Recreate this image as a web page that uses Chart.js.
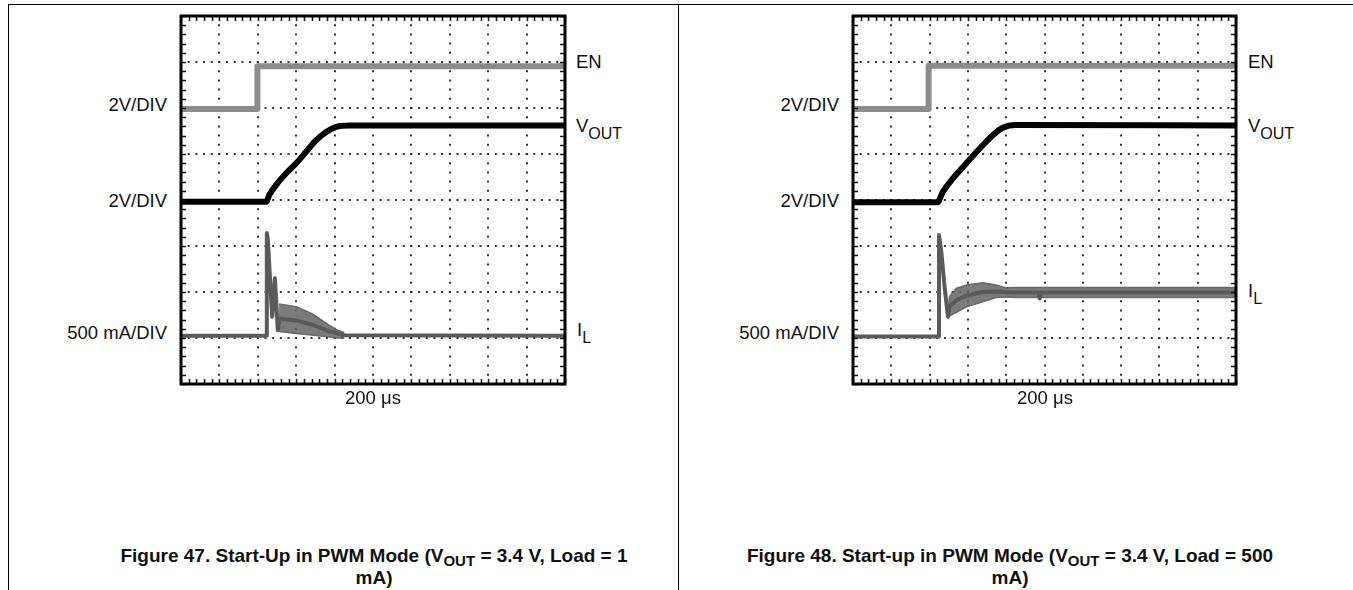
<!DOCTYPE html>
<html>
<head>
<meta charset="utf-8">
<script src="https://cdn.jsdelivr.net/npm/chart.js@4.4.1/dist/chart.umd.min.js"></script>
<style>
  html, body { margin: 0; padding: 0; background: #fff; }
  body { width: 1353px; height: 590px; position: relative; overflow: hidden;
         font-family: "Liberation Sans", Arial, Helvetica, sans-serif; color: #111; }
  .rule { position: absolute; background: #000; }
  canvas { position: absolute; }
  .lbl { position: absolute; font-size: 18.5px; line-height: 18.5px; white-space: nowrap; transform: translateY(-50%); }
  .lbl.r { transform: translate(-100%, -50%); }
  .lbl.c { transform: translate(-50%, -50%); }
  .lbl sub { font-size: 16px; vertical-align: baseline; position: relative; top: 7px; }
  .cap { position: absolute; text-align: center; font-weight: bold; font-size: 19px; line-height: 21px;
         white-space: nowrap; transform: translateX(-50%); }
  .cap sub { font-size: 15px; vertical-align: baseline; position: relative; top: 4px; }
</style>
</head>
<body>
<div class="rule" style="left:8px; top:4px; width:1345px; height:1px"></div>
<div class="rule" style="left:8px; top:4px; width:1px; height:586px"></div>
<div class="rule" style="left:678px; top:4px; width:1px; height:586px"></div>

<canvas id="fig47" width="404" height="388" style="left:171px; top:6px"></canvas>
<canvas id="fig48" width="403" height="388" style="left:843px; top:6px"></canvas>

<!-- Figure 47 labels -->
<div class="lbl r" style="left:167px; top:105px">2V/DIV</div>
<div class="lbl r" style="left:167px; top:201px">2V/DIV</div>
<div class="lbl r" style="left:167px; top:333px">500 mA/DIV</div>
<div class="lbl" style="left:576px; top:62px">EN</div>
<div class="lbl" style="left:576px; top:127px">V<sub>OUT</sub></div>
<div class="lbl" style="left:577px; top:331px">I<sub>L</sub></div>
<div class="lbl c" style="left:373px; top:398px">200 μs</div>
<div class="cap" style="left:374px; top:545px">Figure 47. Start-Up in PWM Mode (V<sub>OUT</sub> = 3.4 V, Load = 1<br>mA)</div>

<!-- Figure 48 labels -->
<div class="lbl r" style="left:839px; top:105px">2V/DIV</div>
<div class="lbl r" style="left:839px; top:201px">2V/DIV</div>
<div class="lbl r" style="left:839px; top:333px">500 mA/DIV</div>
<div class="lbl" style="left:1248px; top:62px">EN</div>
<div class="lbl" style="left:1248px; top:127px">V<sub>OUT</sub></div>
<div class="lbl" style="left:1248px; top:292px">I<sub>L</sub></div>
<div class="lbl c" style="left:1045px; top:398px">200 μs</div>
<div class="cap" style="left:1010px; top:545px">Figure 48. Start-up in PWM Mode (V<sub>OUT</sub> = 3.4 V, Load = 500<br>mA)</div>

<script>
// time in µs (200 µs/div, 10 div across), level in screen divisions (8 div high)

// Figure 47, load 1 mA
const en47T = [0, 398, 398, 2000];
const en47Y = [5.98, 5.98, 6.91, 6.91];
const vout47T = [0, 444, 460, 496, 548, 600, 652, 704, 756, 808, 878, 2000];
const vout47Y = [3.96, 3.96, 4.11, 4.33, 4.58, 4.80, 5.05, 5.30, 5.48, 5.59, 5.62, 5.62];
const il47T = [0, 444, 447, 452, 475, 489, 504, 514, 600, 690, 775, 850, 2000];
const il47Y = [1.05, 1.05, 3.28, 3.15, 1.46, 2.30, 1.17, 1.42, 1.38, 1.28, 1.14, 1.06, 1.05];
const il47BandT = [510, 600, 690, 775, 810, 850];
const il47BandHi = [1.74, 1.68, 1.51, 1.27, 1.18, 1.12];
const il47BandLo = [1.14, 1.10, 1.06, 1.02, 1.00, 1.00];

// Figure 48, load 500 mA
const en48T = [0, 395, 395, 2000];
const en48Y = [5.98, 5.98, 6.92, 6.92];
const vout48T = [0, 440, 470, 522, 592, 662, 730, 782, 852, 2000];
const vout48Y = [3.95, 3.95, 4.18, 4.47, 4.80, 5.12, 5.41, 5.57, 5.63, 5.62];
const il48T = [0, 446, 449, 462, 478, 496, 504, 540, 592, 678, 760, 820, 970, 975, 980, 2000];
const il48Y = [1.03, 1.03, 3.24, 2.84, 2.12, 1.46, 1.69, 1.82, 1.92, 2.00, 2.01, 1.99, 1.99, 1.86, 1.99, 1.99];
const il48BandT = [496, 504, 540, 592, 678, 748, 800, 860, 2000];
const il48BandHi = [1.50, 1.90, 2.08, 2.15, 2.20, 2.15, 2.09, 2.10, 2.10];
const il48BandLo = [1.43, 1.48, 1.56, 1.68, 1.79, 1.88, 1.89, 1.88, 1.88];

const PAD = 10;

function pts(t, y) {
    return t.map((v, i) => ({ x: v, y: y[i] }));
}

// scope frame with the little minor-division ticks on all four sides
const graticule = {
    id: 'graticule',
    afterDatasetsDraw(chart) {
        const { ctx, chartArea: a, scales: { x, y } } = chart;
        ctx.save();
        ctx.strokeStyle = '#111';
        ctx.lineWidth = 1.5;
        ctx.beginPath();
        for (let i = 0; i <= 50; i++) {
            const px = Math.round(x.getPixelForValue(i * 40)) + 0.5;
            ctx.moveTo(px, a.bottom); ctx.lineTo(px, a.bottom - 5);
            ctx.moveTo(px, a.top); ctx.lineTo(px, a.top + 5);
        }
        for (let i = 0; i <= 40; i++) {
            const py = Math.round(y.getPixelForValue(i * 0.2)) + 0.5;
            ctx.moveTo(a.left, py); ctx.lineTo(a.left + 5, py);
            ctx.moveTo(a.right, py); ctx.lineTo(a.right - 5, py);
        }
        ctx.stroke();
        ctx.lineWidth = 3;
        ctx.strokeStyle = '#000';
        ctx.strokeRect(a.left, a.top, a.right - a.left, a.bottom - a.top);
        ctx.restore();
    }
};

function makeChart(id, en, vout, il, band) {
    const canvas = document.getElementById(id);
    const plotW = canvas.width - 2 * PAD;
    const plotH = canvas.height - 2 * PAD;
    const xDot = plotW / 50;   // dot pitch along horizontal lines
    const yDot = plotH / 40;   // dot pitch along vertical lines

    return new Chart(canvas, {
        type: 'line',
        data: {
            datasets: [
                { data: pts(il.t, il.y), borderColor: '#5a5a5a', borderWidth: 4, order: 1 },
                { data: pts(band.t, band.hi), borderColor: 'rgba(95,95,95,0.9)', borderWidth: 1.5,
                  backgroundColor: 'rgba(100,100,100,0.85)', fill: '+1', order: 2 },
                { data: pts(band.t, band.lo), borderColor: 'rgba(95,95,95,0.9)', borderWidth: 1.5, fill: false, order: 2 },
                { data: pts(vout.t, vout.y), borderColor: '#000', borderWidth: 6, cubicInterpolationMode: 'monotone', order: 0 },
                { data: pts(en.t, en.y), borderColor: '#8c8c8c', borderWidth: 6, order: 0 }
            ]
        },
        options: {
            responsive: false,
            animation: false,
            events: [],
            layout: { padding: PAD },
            elements: {
                point: { radius: 0 },
                line: { tension: 0, borderJoinStyle: 'round' }
            },
            plugins: {
                legend: { display: false },
                tooltip: { enabled: false }
            },
            scales: {
                x: {
                    type: 'linear', min: 0, max: 2000,
                    ticks: { display: false, stepSize: 200 },
                    grid: { color: '#333', lineWidth: 2, drawTicks: false },
                    border: { display: false, dash: [2, yDot - 2], dashOffset: 1 }
                },
                y: {
                    type: 'linear', min: 0, max: 8,
                    ticks: { display: false, stepSize: 1 },
                    grid: { color: '#333', lineWidth: 2, drawTicks: false },
                    border: { display: false, dash: [2, xDot - 2], dashOffset: 1 }
                }
            }
        },
        plugins: [graticule]
    });
}

makeChart('fig47',
    { t: en47T, y: en47Y },
    { t: vout47T, y: vout47Y },
    { t: il47T, y: il47Y },
    { t: il47BandT, hi: il47BandHi, lo: il47BandLo });

makeChart('fig48',
    { t: en48T, y: en48Y },
    { t: vout48T, y: vout48Y },
    { t: il48T, y: il48Y },
    { t: il48BandT, hi: il48BandHi, lo: il48BandLo });
</script>
</body>
</html>
